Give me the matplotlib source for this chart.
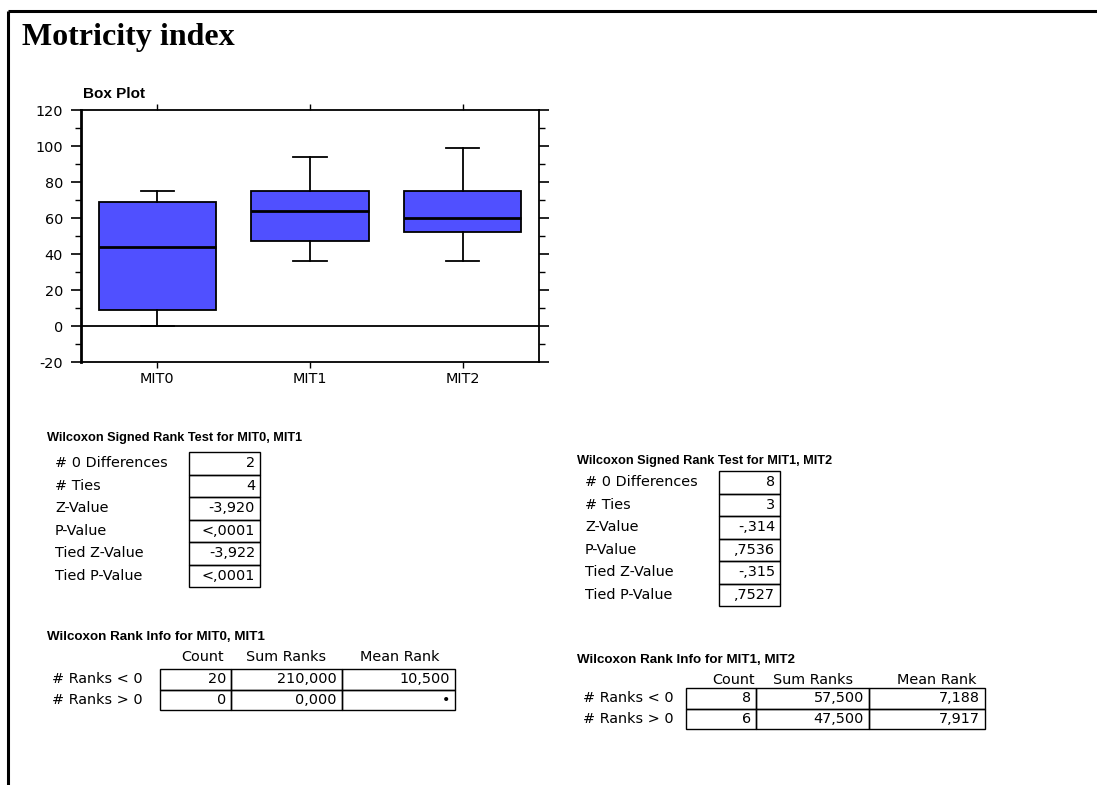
import matplotlib
matplotlib.use("Agg")
import matplotlib.pyplot as plt
from matplotlib.patches import Rectangle
from matplotlib.ticker import MultipleLocator

plt.rcParams["axes.unicode_minus"] = False

# ---- data -------------------------------------------------------------
categories = ["MIT0", "MIT1", "MIT2"]
whisker_low = [0, 36, 36]
q1 = [9, 47, 52]
median = [44, 64, 60]
q3 = [69, 75, 75]
whisker_high = [75, 94, 99]

signed_rank_labels = ["# 0 Differences", "# Ties", "Z-Value", "P-Value",
                      "Tied Z-Value", "Tied P-Value"]
signed_rank_mit0_mit1 = ["2", "4", "-3,920", "<,0001", "-3,922", "<,0001"]
signed_rank_mit1_mit2 = ["8", "3", "-,314", ",7536", "-,315", ",7527"]

rank_info_columns = ["Count", "Sum Ranks", "Mean Rank"]
rank_info_rows = ["# Ranks < 0", "# Ranks > 0"]
rank_info_mit0_mit1 = [["20", "210,000", "10,500"], ["0", "0,000", "\u2022"]]
rank_info_mit1_mit2 = [["8", "57,500", "7,188"], ["6", "47,500", "7,917"]]

# ---- figure -----------------------------------------------------------
W, H = 1097, 785
fig = plt.figure(figsize=(W / 100, H / 100), dpi=100)
SANS = ["DejaVu Sans"]
BOLD_SANS = ["Liberation Sans", "DejaVu Sans"]
TXT = 10.4

# page layer in pixel coordinates
page = fig.add_axes([0, 0, 1, 1])
page.set_xlim(0, W)
page.set_ylim(H, 0)
page.axis("off")

page.plot([8, W], [11, 11], color="black", lw=2.2, solid_capstyle="butt")
page.plot([8, 8], [11, H], color="black", lw=2.2, solid_capstyle="butt")

page.text(22, 45, "Motricity index", family=["Liberation Serif"],
          weight="bold", fontsize=23, va="baseline", ha="left")

page.text(83, 98, "Box Plot", family=BOLD_SANS, weight="bold",
          fontsize=11, va="baseline", ha="left")


def signed_rank_table(x_title, y_title, x_label, x0, x1, y0, rh, title, values):
    page.text(x_title, y_title, title, family=BOLD_SANS, weight="bold",
              fontsize=9.2, va="center", ha="left")
    for i, (lab, val) in enumerate(zip(signed_rank_labels, values)):
        yc = y0 + rh * (i + 0.5)
        page.add_patch(Rectangle((x0, y0 + rh * i), x1 - x0, rh, fill=False,
                                 edgecolor="black", lw=1.0))
        page.text(x_label, yc, lab, family=SANS, fontsize=TXT,
                  va="center", ha="left")
        page.text(x1 - 5, yc, val, family=SANS, fontsize=TXT,
                  va="center", ha="right")


def rank_info_table(x_title, y_title, y_header, header_x, x_label, cols,
                    y0, rh, title, values):
    page.text(x_title, y_title, title, family=BOLD_SANS, weight="bold",
              fontsize=9.6, va="center", ha="left")
    for hx, name in zip(header_x, rank_info_columns):
        page.text(hx, y_header, name, family=SANS, fontsize=TXT,
                  va="center", ha="center")
    for i, (lab, row) in enumerate(zip(rank_info_rows, values)):
        yc = y0 + rh * (i + 0.5)
        page.text(x_label, yc, lab, family=SANS, fontsize=TXT,
                  va="center", ha="left")
        for j, val in enumerate(row):
            page.add_patch(Rectangle((cols[j], y0 + rh * i),
                                     cols[j + 1] - cols[j], rh, fill=False,
                                     edgecolor="black", lw=1.0))
            page.text(cols[j + 1] - 5, yc, val, family=SANS, fontsize=TXT,
                      va="center", ha="right")


signed_rank_table(47, 438, 55, 189, 260, 452, 22.5,
                  "Wilcoxon Signed Rank Test for MIT0, MIT1",
                  signed_rank_mit0_mit1)
signed_rank_table(577, 461, 585, 719, 780, 471, 22.5,
                  "Wilcoxon Signed Rank Test for MIT1, MIT2",
                  signed_rank_mit1_mit2)

rank_info_table(47, 637, 657, [203, 286, 400], 52, [160, 231, 342, 455],
                669, 20.5, "Wilcoxon Rank Info for MIT0, MIT1",
                rank_info_mit0_mit1)
rank_info_table(577, 660, 680, [734, 813, 937], 583, [686, 756, 869, 985],
                688, 20.5, "Wilcoxon Rank Info for MIT1, MIT2",
                rank_info_mit1_mit2)

# ---- box plot ---------------------------------------------------------
left, right, top, bottom = 81, 539, 110, 362
ax = fig.add_axes([left / W, 1 - bottom / H, (right - left) / W,
                   (bottom - top) / H])
ax.patch.set_alpha(0)

stats = [dict(label=c, whislo=lo, q1=a, med=m, q3=b, whishi=hi, fliers=[])
         for c, lo, a, m, b, hi in zip(categories, whisker_low, q1, median,
                                       q3, whisker_high)]
ax.bxp(stats, positions=range(len(categories)), widths=0.77,
       capwidths=0.22, patch_artist=True, showfliers=False,
       boxprops=dict(facecolor="#5050ff", edgecolor="black", lw=1.3),
       medianprops=dict(color="black", lw=2.0),
       whiskerprops=dict(color="black", lw=1.3),
       capprops=dict(color="black", lw=1.3))

ax.axhline(0, color="black", lw=1.3, zorder=0.5)
ax.set_xlim(-0.5, len(categories) - 0.5)
ax.set_ylim(-20, 120)
ax.yaxis.set_major_locator(MultipleLocator(20))
ax.yaxis.set_minor_locator(MultipleLocator(10))
ax.set_xticks(range(len(categories)))
ax.set_xticklabels(categories)
ax.tick_params(axis="y", which="major", direction="out", length=7,
               width=1.2, left=True, right=True, labelsize=10.4, pad=6)
ax.tick_params(axis="y", which="minor", direction="out", length=4,
               width=1.0, left=True, right=True)
ax.tick_params(axis="x", which="both", direction="out", length=4,
               width=1.0, top=True, bottom=True, labelsize=10.4, pad=3)
for lab in ax.get_xticklabels() + ax.get_yticklabels():
    lab.set_family(SANS)
for side in ["top", "right", "bottom"]:
    ax.spines[side].set_linewidth(1.3)
ax.spines["left"].set_linewidth(2.0)

fig.savefig("out.png", dpi=100)
